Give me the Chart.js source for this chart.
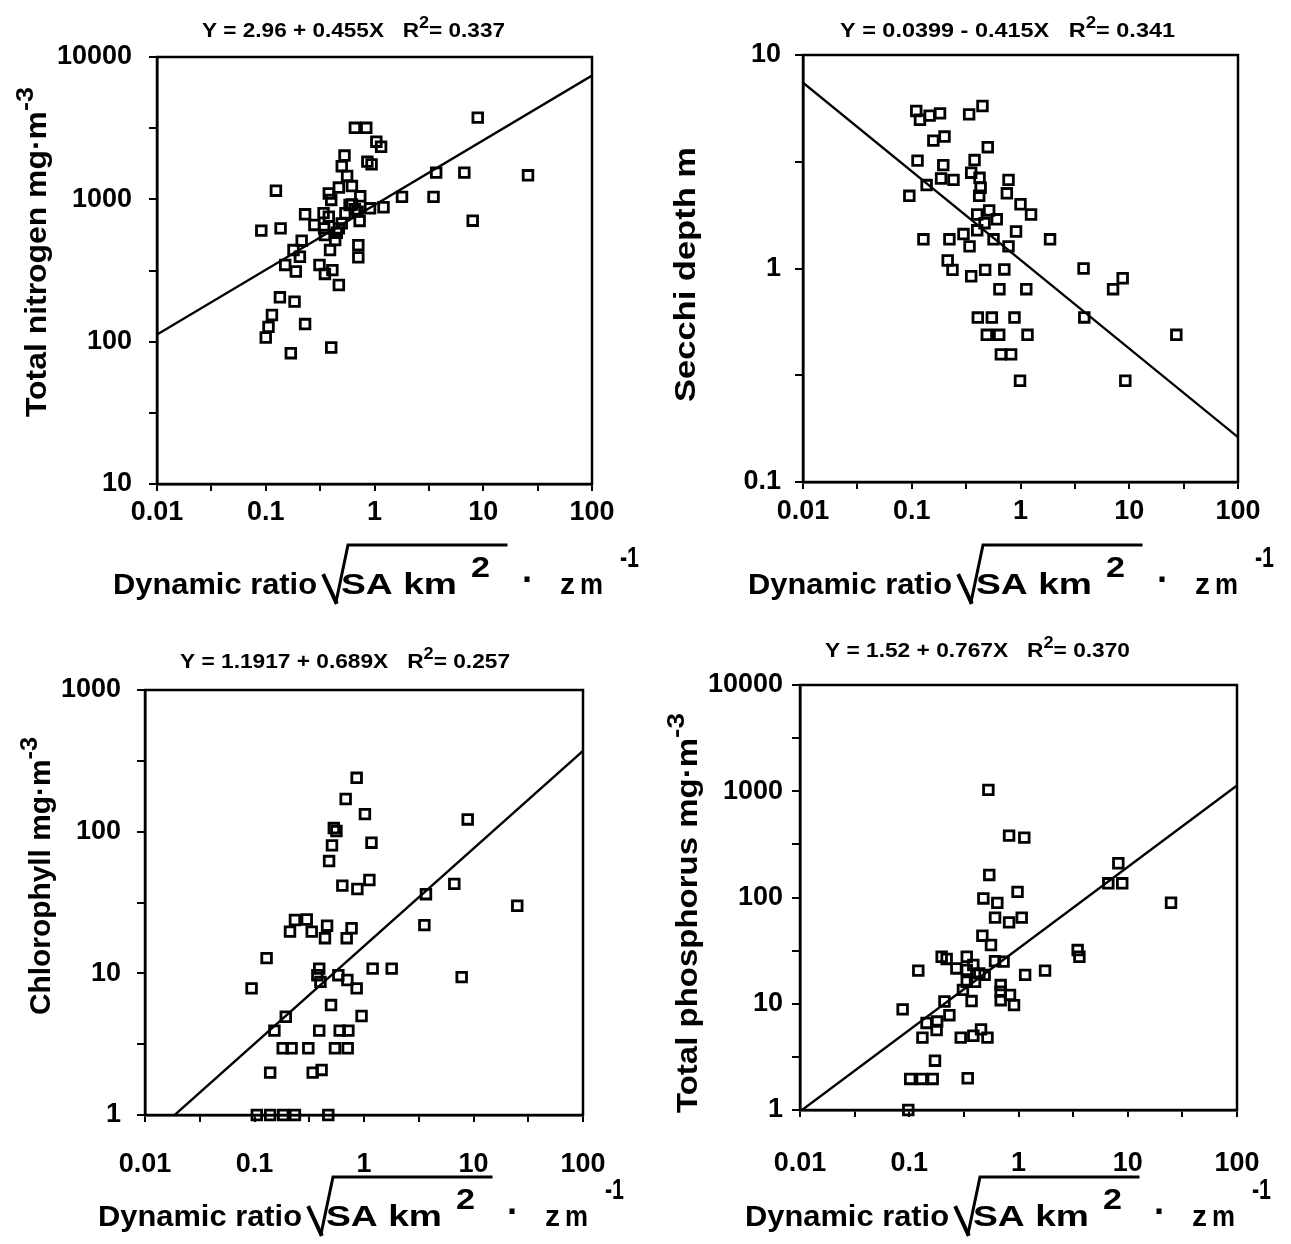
<!DOCTYPE html>
<html>
<head>
<meta charset="utf-8">
<script src="https://cdn.jsdelivr.net/npm/chart.js@4.4.1/dist/chart.umd.min.js"></script>
<style>
  html, body { margin: 0; background: #fff; }
  #wrap { position: relative; width: 1291px; height: 1244px; }
  #wrap canvas { position: absolute; left: 0; top: 0; }
</style>
</head>
<body>
<div id="wrap">
  <canvas id="c1" width="1291" height="1244"></canvas>
  <canvas id="c2" width="1291" height="1244"></canvas>
  <canvas id="c3" width="1291" height="1244"></canvas>
  <canvas id="c4" width="1291" height="1244"></canvas>
</div>
<script>
const FONT = "'Liberation Sans', Arial, Helvetica, sans-serif";

// x axis (shared by all four panels)
const xDecades = [0.01, 0.1, 1, 10, 100];
const xTickLabels = ['0.01', '0.1', '1', '10', '100'];

// y axes
const nitrogenDecades = [10, 100, 1000, 10000];
const nitrogenLabels = ['10', '100', '1000', '10000'];
const secchiDecades = [0.1, 1, 10];
const secchiLabels = ['0.1', '1', '10'];
const chlDecades = [1, 10, 100, 1000];
const chlLabels = ['1', '10', '100', '1000'];
const phosDecades = [1, 10, 100, 1000, 10000];
const phosLabels = ['1', '10', '100', '1000', '10000'];

// total nitrogen vs dynamic ratio
const nitrogenX = [8.9, 0.66, 0.84, 1.04, 1.15, 0.53, 0.50, 0.86, 0.94, 0.56, 3.69, 6.7, 25.8, 0.124, 0.47, 0.62,
  0.38, 0.40, 0.74, 1.79, 3.49, 1.21, 0.62, 0.91, 0.70, 0.23, 0.34, 0.38, 8.0, 0.73, 0.28, 0.091, 0.137, 0.344,
  0.47, 0.35, 0.214, 0.435, 0.71, 0.18, 0.39, 0.206, 0.71, 0.151, 0.189, 0.312, 0.35, 0.41, 0.47, 0.135, 0.184,
  0.114, 0.106, 0.10, 0.23, 0.17, 0.40, 0.59, 0.66, 0.54, 0.50, 0.45];
const nitrogenY = [3750, 3180, 3180, 2540, 2340, 2030, 1710, 1840, 1760, 1460, 1540, 1540, 1475, 1150, 1210, 1240,
  1100, 990, 1050, 1040, 1040, 880, 920, 865, 820, 785, 800, 755, 708, 705, 661, 603, 625, 625,
  625, 561, 512, 518, 477, 440, 440, 395, 391, 346, 311, 346, 299, 318, 250, 205, 191,
  154, 127, 107, 133, 83, 91, 912, 851, 798, 678, 583];

// secchi depth vs dynamic ratio
const secchiX = [0.110, 0.119, 0.146, 0.182, 0.337, 0.447, 0.158, 0.20, 0.50, 0.113, 0.195, 0.378, 0.352, 0.42,
  0.186, 0.242, 0.137, 0.776, 0.43, 0.749, 0.095, 0.417, 1.0, 1.25, 0.40, 0.515, 0.605, 0.467, 0.40, 0.299, 0.91,
  0.128, 0.222, 0.565, 1.87, 0.34, 0.776, 0.214, 0.237, 0.352, 0.473, 0.71, 3.80, 8.7, 7.1, 0.64, 1.13, 0.405,
  0.545, 0.88, 3.86, 0.49, 0.637, 1.16, 27.1, 0.66, 0.82, 0.99, 9.2];
const secchiY = [5.47, 4.97, 5.2, 5.33, 5.27, 5.77, 3.97, 4.15, 3.70, 3.20, 3.05, 3.22, 2.81, 2.66,
  2.64, 2.60, 2.46, 2.60, 2.39, 2.25, 2.19, 2.19, 2.0, 1.79, 1.79, 1.87, 1.70, 1.63, 1.51, 1.45, 1.49,
  1.37, 1.37, 1.37, 1.37, 1.27, 1.27, 1.09, 0.985, 0.92, 0.985, 0.99, 1.0, 0.90, 0.80, 0.80, 0.80, 0.589,
  0.589, 0.589, 0.59, 0.489, 0.489, 0.489, 0.489, 0.396, 0.396, 0.298, 0.298];

// chlorophyll vs dynamic ratio
const chlX = [0.857, 0.68, 1.02, 8.85, 0.53, 0.56, 0.51, 1.17, 0.48, 0.634, 0.87, 1.12, 3.68, 6.68, 25.1, 3.56,
  0.234, 0.30, 0.211, 0.333, 0.46, 0.44, 0.77, 0.695, 0.129, 0.39, 0.375, 0.40, 0.583, 0.705, 0.857, 1.20, 1.79,
  7.8, 0.094, 0.50, 0.193, 0.95, 0.152, 0.39, 0.60, 0.72, 0.181, 0.218, 0.31, 0.543, 0.71, 0.139, 0.34, 0.41,
  0.105, 0.139, 0.183, 0.234, 0.472];
const chlY = [240, 170, 133, 122, 106, 101, 80, 83.6, 62, 41.6, 39.4, 45.6, 36.2, 42.8, 30, 21.9,
  23.8, 24.0, 19.7, 19.7, 21.7, 17.7, 20.8, 17.7, 12.8, 10.8, 9.7, 8.7, 9.7, 8.97, 7.83, 10.8, 10.8,
  9.4, 7.83, 5.97, 4.94, 5.0, 3.94, 3.94, 3.94, 3.94, 2.96, 2.96, 2.96, 2.96, 2.96, 1.99, 1.99, 2.08,
  1, 1, 1, 1, 1];

// total phosphorus vs dynamic ratio
const phosX = [0.53, 0.82, 1.13, 0.54, 8.2, 6.64, 8.9, 24.9, 0.477, 0.64, 0.98, 0.61, 0.82, 1.07, 0.467, 0.56,
  3.48, 3.61, 0.198, 0.22, 0.336, 0.386, 0.61, 0.73, 0.121, 0.27, 0.336, 0.438, 0.49, 1.15, 1.75, 0.336, 0.40,
  0.687, 0.687, 0.836, 0.687, 0.91, 0.21, 0.372, 0.31, 0.087, 0.233, 0.144, 0.18, 0.178, 0.132, 0.296, 0.386,
  0.454, 0.52, 0.172, 0.102, 0.13, 0.164, 0.343, 0.098];
const phosY = [1030, 382, 366, 163, 210, 136, 136, 89.3, 98, 89, 113, 64.6, 58.3, 64.6, 43.7, 35.7,
  32, 27.7, 27.7, 26.4, 27.7, 23.2, 25.2, 24.9, 20.5, 21.5, 20.8, 19.3, 18.7, 18.7, 20.5, 16.1, 16.1,
  15.0, 13.0, 12.1, 10.8, 9.7, 10.5, 10.6, 13.5, 8.85, 7.8, 6.6, 6.8, 5.66, 4.8, 4.8, 5.0,
  5.74, 4.8, 2.91, 1.96, 1.96, 1.96, 1.99, 1];

// printed regression fits (log10 Y = a + b log10 X)
const fitIntercept = [2.96, 0.0399, 1.1917, 1.52];
const fitSlope = [0.455, -0.415, 0.689, 0.767];
const fitInterceptText = ['2.96', '0.0399', '1.1917', '1.52'];
const fitSlopeText = ['+ 0.455X', '- 0.415X', '+ 0.689X', '+ 0.767X'];
const fitR2Text = ['0.337', '0.341', '0.257', '0.370'];

const yTitles = ['Total nitrogen mg\u00b7m', 'Secchi depth m', 'Chlorophyll mg\u00b7m', 'Total phosphorus mg\u00b7m'];
const yTitleSup = ['-3', '', '-3', '-3'];

// page layout of each panel
const panels = [
  { id: 'c1', x: nitrogenX, y: nitrogenY, yDec: nitrogenDecades, yLab: nitrogenLabels,
    area: { l: 157, r: 592, t: 57, b: 484 }, yPad: 17, xPad: 5,
    eq: { x: 202, y: 37, w: 303 }, yt: { x: 46, y: 417, len: 330 }, xt: { x: 113, y: 594 } },
  { id: 'c2', x: secchiX, y: secchiY, yDec: secchiDecades, yLab: secchiLabels,
    area: { l: 803, r: 1238, t: 55, b: 482 }, yPad: 14, xPad: 6,
    eq: { x: 840, y: 37, w: 335 }, yt: { x: 695, y: 402, len: 255 }, xt: { x: 748, y: 594 } },
  { id: 'c3', x: chlX, y: chlY, yDec: chlDecades, yLab: chlLabels,
    area: { l: 145, r: 583, t: 690, b: 1115 }, yPad: 16, xPad: 26,
    eq: { x: 180, y: 668, w: 330 }, yt: { x: 50, y: 1015, len: 278 }, xt: { x: 98, y: 1226 } },
  { id: 'c4', x: phosX, y: phosY, yDec: phosDecades, yLab: phosLabels,
    area: { l: 800, r: 1237, t: 685, b: 1110 }, yPad: 9, xPad: 30,
    eq: { x: 825, y: 657, w: 305 }, yt: { x: 697, y: 1113, len: 400 }, xt: { x: 745, y: 1226 } }
];

// decades plus half-decade minor ticks
function withMidTicks(decades) {
  const out = [];
  decades.forEach((d, i) => {
    out.push(d);
    if (i < decades.length - 1) out.push(Math.sqrt(d * decades[i + 1]));
  });
  return out;
}

function partWidth(ctx, p, size) {
  ctx.font = 'bold ' + (size * (p.s || 1)) + 'px ' + FONT;
  return ctx.measureText(p.t).width + (p.gap || 0);
}

// draws a run of text pieces, stretched horizontally to a target width
function drawRich(ctx, parts, x, y, size, width) {
  let natural = 0;
  parts.forEach(p => { natural += partWidth(ctx, p, size); });
  const k = width ? width / natural : 1;
  ctx.save();
  ctx.translate(x, y);
  ctx.scale(k, 1);
  ctx.fillStyle = '#000';
  ctx.textBaseline = 'alphabetic';
  ctx.textAlign = 'left';
  let cx = 0;
  parts.forEach(p => {
    const w = partWidth(ctx, p, size);
    ctx.fillText(p.t, cx, -(p.up || 0));
    cx += w;
  });
  ctx.restore();
}

function drawText(ctx, t, x, y, size, width) {
  drawRich(ctx, [{ t: t }], x, y, size, width);
}

// x axis title: Dynamic ratio sqrt(SA km^2) . zbar m^-1
function drawXTitle(ctx, x0, b) {
  const size = 29;
  drawText(ctx, 'Dynamic ratio', x0, b, size, 204);
  ctx.save();
  ctx.strokeStyle = '#000';
  ctx.lineCap = 'square';
  ctx.lineJoin = 'miter';
  ctx.lineWidth = 4;
  ctx.beginPath();
  ctx.moveTo(x0 + 211, b - 18);
  ctx.lineTo(x0 + 223, b + 8);
  ctx.stroke();
  ctx.lineWidth = 3;
  ctx.beginPath();
  ctx.moveTo(x0 + 223, b + 8);
  ctx.lineTo(x0 + 235, b - 49);
  ctx.lineTo(x0 + 393, b - 49);
  ctx.stroke();
  ctx.restore();
  drawText(ctx, 'SA km', x0 + 228, b, size, 116);
  drawText(ctx, '2', x0 + 358, b - 17, size, 19);
  drawText(ctx, '\u00b7', x0 + 409, b - 2, size + 8, 12);
  drawText(ctx, 'z', x0 + 447, b, size, 15);
  ctx.fillRect(x0 + 447, b - 27, 15, 3.5);
  drawText(ctx, 'm', x0 + 467, b, size, 23);
  drawText(ctx, '-1', x0 + 507, b - 27, size, 19);
}

const annotate = {
  id: 'annotate',
  afterDraw(chart, args, opts) {
    const ctx = chart.ctx;
    const i = opts.index;
    const P = panels[i];
    // regression equation
    drawRich(ctx, [
      { t: 'Y = ' + fitInterceptText[i] + ' ' + fitSlopeText[i] + '   R' },
      { t: '2', s: 0.8, up: 9 },
      { t: '= ' + fitR2Text[i] }
    ], P.eq.x, P.eq.y, 20, P.eq.w);
    // y title (rotated)
    ctx.save();
    ctx.translate(P.yt.x, P.yt.y);
    ctx.rotate(-Math.PI / 2);
    const parts = [{ t: yTitles[i] }];
    if (yTitleSup[i]) parts.push({ t: yTitleSup[i], s: 0.85, up: 13 });
    drawRich(ctx, parts, 0, 0, 29, P.yt.len);
    ctx.restore();
    drawXTitle(ctx, P.xt.x, P.xt.y);
    // plot frame
    const a = chart.chartArea;
    ctx.save();
    ctx.strokeStyle = '#000';
    ctx.lineWidth = 2.5;
    ctx.strokeRect(a.left, a.top, a.right - a.left, a.bottom - a.top);
    ctx.restore();
  }
};

panels.forEach((P, i) => {
  const pts = P.x.map((v, k) => ({ x: v, y: P.y[k] }));
  const x0 = xDecades[0], x1 = xDecades[xDecades.length - 1];
  const fit = v => Math.pow(10, fitIntercept[i] + fitSlope[i] * Math.log10(v));
  const xTicks = withMidTicks(xDecades);
  const yTicks = withMidTicks(P.yDec);

  new Chart(document.getElementById(P.id), {
    data: {
      datasets: [
        {
          type: 'scatter',
          data: pts,
          pointStyle: 'rect',
          pointRadius: 6.8,
          pointBorderWidth: 2.8,
          borderColor: '#000',
          backgroundColor: 'rgba(0,0,0,0)',
          clip: false
        },
        {
          type: 'line',
          data: [{ x: x0, y: fit(x0) }, { x: x1, y: fit(x1) }],
          borderColor: '#000',
          borderWidth: 2.4,
          pointRadius: 0,
          fill: false
        }
      ]
    },
    options: {
      responsive: false,
      animation: false,
      events: [],
      layout: { padding: { left: 0, top: P.area.t, right: 1291 - P.area.r, bottom: 0 } },
      plugins: {
        legend: { display: false },
        title: { display: false },
        tooltip: { enabled: false },
        annotate: { index: i }
      },
      scales: {
        x: {
          type: 'logarithmic',
          position: 'bottom',
          min: x0,
          max: x1,
          afterBuildTicks: s => { s.ticks = xTicks.map(v => ({ value: v })); },
          afterFit: s => { s.height = 1244 - P.area.b; },
          ticks: {
            autoSkip: false,
            maxRotation: 0,
            padding: P.xPad,
            color: '#000',
            font: { family: FONT, size: 27, weight: 'bold' },
            callback: (v, k) => (k % 2 ? '' : xTickLabels[k / 2])
          },
          grid: { drawOnChartArea: false, tickLength: 7, color: '#000', lineWidth: 2 },
          border: { color: '#000', width: 2.5 }
        },
        y: {
          type: 'logarithmic',
          position: 'left',
          min: P.yDec[0],
          max: P.yDec[P.yDec.length - 1],
          afterBuildTicks: s => { s.ticks = yTicks.map(v => ({ value: v })); },
          afterFit: s => { s.width = P.area.l; },
          ticks: {
            autoSkip: false,
            padding: P.yPad,
            color: '#000',
            font: { family: FONT, size: 27, weight: 'bold' },
            callback: (v, k) => (k % 2 ? '' : P.yLab[k / 2])
          },
          grid: { drawOnChartArea: false, tickLength: 8, color: '#000', lineWidth: 2 },
          border: { color: '#000', width: 2.5 }
        }
      }
    },
    plugins: [annotate]
  });
});
</script>
</body>
</html>
